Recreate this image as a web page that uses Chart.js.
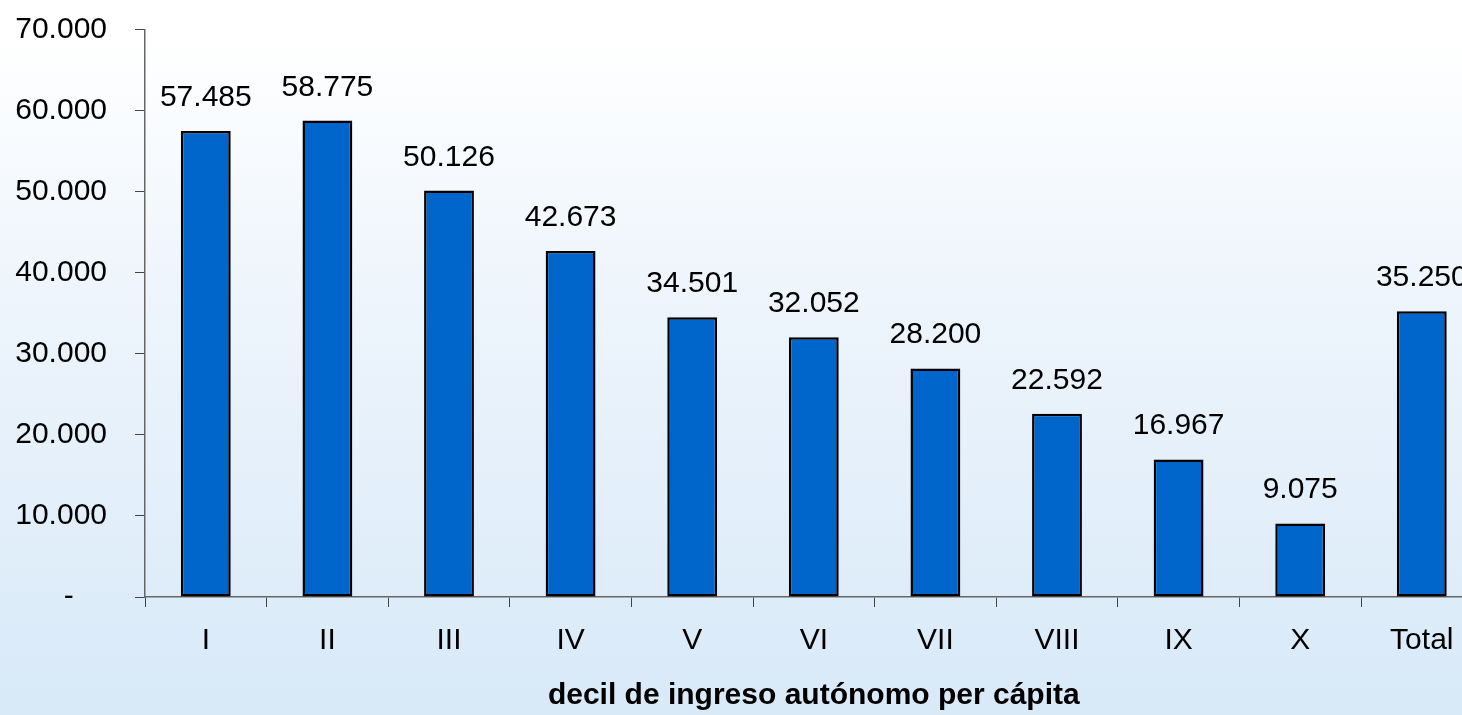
<!DOCTYPE html>
<html>
<head>
<meta charset="utf-8">
<script src="https://cdn.jsdelivr.net/npm/chart.js@4"></script>
<style>
  html, body { margin:0; padding:0; overflow:hidden; width:1462px; height:715px; }
  body { background: linear-gradient(to bottom, #ffffff 0%, #ffffff 5%, #eef5fc 40%, #d8e9f8 100%); }
  #wrap { position:absolute; left:0; top:0; width:1500px; height:715px; }
</style>
</head>
<body>
<div id="wrap"><canvas id="chart" width="1500" height="715"></canvas></div>
<script>
// Datos
const deciles = ['I','II','III','IV','V','VI','VII','VIII','IX','X','Total'];
const ingresos = [57485, 58775, 50126, 42673, 34501, 32052, 28200, 22592, 16967, 9075, 35250];
const yMax = 70000, yStep = 10000;
const xTitle = 'decil de ingreso autónomo per cápita';

const FAM = "'Liberation Sans', Arial, sans-serif";
const FS = 30;

// miles con punto, cero como guion
function fmt(v) {
  if (v === 0) return '-    ';
  return String(v).replace(/\B(?=(\d{3})+(?!\d))/g, '.');
}

// etiquetas sobre las barras
const valueLabels = {
  id:'valueLabels',
  afterDatasetsDraw(chart) {
    const ctx = chart.ctx;
    const meta = chart.getDatasetMeta(0);
    ctx.save();
    ctx.font = FS + 'px ' + FAM;
    ctx.fillStyle = '#000';
    ctx.textAlign = 'center';
    ctx.textBaseline = 'alphabetic';
    meta.data.forEach((bar, i) => {
      ctx.fillText(fmt(ingresos[i]), bar.x, bar.y - 25);
    });
    ctx.restore();
  }
};

new Chart(document.getElementById('chart'), {
  type:'bar',
  data:{ labels: deciles, datasets:[{
    data: ingresos, backgroundColor:'#0066cc', borderColor:'#000', borderWidth:2.5,
    borderSkipped:false, categoryPercentage:1, barPercentage:0.41
  }]},
  options:{
    responsive:false, animation:false, devicePixelRatio:1,
    layout:{ padding:{ top:29.5, right:17.4, left:0, bottom:0 } },
    plugins:{ legend:{display:false}, tooltip:{enabled:false} },
    scales:{
      x:{
        grid:{ drawOnChartArea:false, tickLength:10, color:'#444', offset:true },
        border:{ color:'#666', width:1.5 },
        ticks:{ color:'#000', font:{ family:FAM, size:FS }, padding:16, maxRotation:0 },
        title:{ display:true, text:xTitle, color:'#000', font:{ family:FAM, size:FS, weight:'bold' }, padding:{ top:0, bottom:1 } },
        afterFit(s){ s.height = 118; }
      },
      y:{
        min:0, max:yMax,
        grid:{ drawOnChartArea:false, tickLength:10, color:'#444' },
        border:{ color:'#666', width:1.5 },
        ticks:{ stepSize:yStep, color:'#000', font:{ family:FAM, size:FS }, padding:28, callback:v => fmt(v) },
        afterFit(s){ s.width = 145; s.paddingTop = 15; s.paddingBottom = 15; }
      }
    }
  },
  plugins:[valueLabels]
});
</script>
</body>
</html>
